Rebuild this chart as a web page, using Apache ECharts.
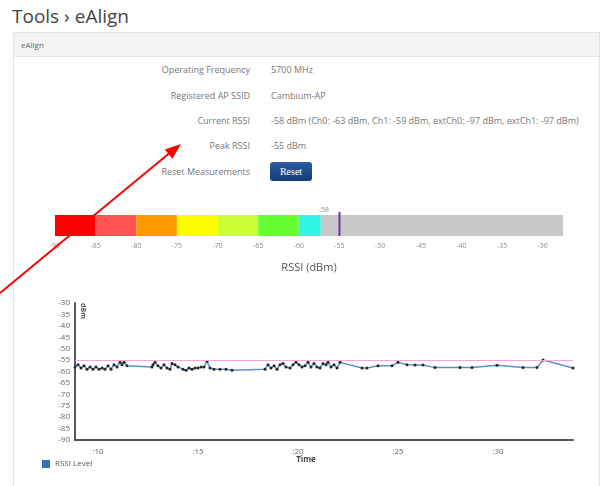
<!DOCTYPE html>
<html>
<head>
<meta charset="utf-8">
<script src="https://cdn.jsdelivr.net/npm/echarts@6/dist/echarts.min.js"></script>
<style>
  body { margin: 0; width: 607px; height: 486px; overflow: hidden; background: #fff; font-family: "Open Sans", sans-serif; position: relative; }
  .title { position: absolute; left: 12px; top: 3px; font-size: 19px; color: #444; }
  .panel { position: absolute; left: 13px; top: 32px; width: 585px; height: 470px; border: 1px solid #e2e2e2; }
  .panel-head { height: 23px; background: #f3f3f3; border-bottom: 1px solid #e6e6e6; font-size: 8px; color: #666; line-height: 23px; padding-left: 7px; }
  .row { position: absolute; left: 0; width: 607px; height: 12px; line-height: 12px; font-size: 9px; color: #777; }
  .row .lbl { position: absolute; right: 357px; white-space: nowrap; }
  .row .val { position: absolute; left: 271px; white-space: nowrap; }
  .btn { position: absolute; left: 270px; top: 162px; width: 42px; height: 19px; border-radius: 3px; background: linear-gradient(#2b5d9e, #123c78); color: #fff; font-family: "Liberation Serif", serif; font-size: 10px; line-height: 19px; text-align: center; }
  #chart { position: absolute; left: 0; top: 0; width: 607px; height: 486px; pointer-events: none; }
</style>
</head>
<body>
<div class="title">Tools &rsaquo; eAlign</div>
<div class="panel"><div class="panel-head">eAlign</div></div>
<div class="row" style="top:64px"><span class="lbl">Operating Frequency</span><span class="val">5700 MHz</span></div>
<div class="row" style="top:90px"><span class="lbl">Registered AP SSID</span><span class="val">Cambium-AP</span></div>
<div class="row" style="top:115px"><span class="lbl">Current RSSI</span><span class="val">-58 dBm (Ch0: -63 dBm, Ch1: -59 dBm, extCh0: -97 dBm, extCh1: -97 dBm)</span></div>
<div class="row" style="top:140px"><span class="lbl">Peak RSSI</span><span class="val">-55 dBm</span></div>
<div class="row" style="top:166px"><span class="lbl">Reset Measurements</span></div>
<div class="btn">Reset</div>
<div id="chart"></div>
<script>
// RSSI gauge bar
const zoneBounds = [-90, -85, -80, -75, -70, -65, -60];
const barLevel = -57.3;      // end of coloured part as seen on the bar
const currentRssi = -58;     // label above bar
const peakRssi = -55;
const barMax = -27.5;

// RSSI history (time in minutes past the hour, dBm)
const timeMinutes = [
  8.85, 9.0, 9.15, 9.3, 9.45, 9.6, 9.75, 9.9, 10.05, 10.2, 10.35, 10.5, 10.65, 10.8, 10.95, 11.1, 11.2, 11.3, 11.45,
  12.7, 12.75, 12.85, 13.0, 13.15, 13.3, 13.45, 13.6, 13.7, 13.85, 14.0, 14.25, 14.4, 14.55, 14.7, 14.85, 15.0, 15.15, 15.3, 15.45, 15.6, 15.8, 16.1, 16.4, 16.7,
  18.35, 18.5, 18.65, 18.8, 18.95, 19.1, 19.25, 19.4, 19.6, 19.75, 19.9, 20.05, 20.2, 20.35, 20.5, 20.65, 20.8, 20.95, 21.1, 21.25, 21.4, 21.5, 21.65, 21.8, 21.95, 22.1,
  23.2, 23.45, 24.0, 24.7, 25.0, 25.45, 25.85, 26.25, 26.85, 28.1, 28.7, 29.95, 31.25, 31.95, 32.25, 33.75
];
const rssiLevel = [
  -58, -57, -58.5, -57.5, -59, -58, -59, -58, -59, -58.5, -59, -57.5, -59, -57, -58, -56, -57, -56, -57.5,
  -58, -57, -56, -57.5, -58.5, -57, -58.5, -59, -56.5, -57, -58, -59, -59.5, -58.5, -59, -58.5, -58.5, -58, -58, -55.5, -58.5, -59, -59, -59, -59.5,
  -59, -57, -58.5, -57.5, -59, -57, -56.5, -58, -58.5, -57, -56, -57, -58, -57.5, -56, -58, -56.5, -58, -58.5, -56.5, -57, -56, -58, -57, -58.5, -56,
  -58.5, -58.5, -57.5, -57.5, -56, -57, -57.2, -57.2, -58.3, -58.3, -58.3, -57.3, -58.3, -58.3, -55, -58.5
];
const timeTicks = [10, 15, 20, 25, 30];

const zoneColors = ["#ff0000", "#ff5252", "#ff9900", "#ffff00", "#ccff33", "#66ff33", "#33f5e8"];
const restColor = "#c8c8c8";

// segments: [from, to, colourIndex] (-1 = grey remainder)
const segments = zoneBounds.map((b, i) => [b, i + 1 < zoneBounds.length ? zoneBounds[i + 1] : barLevel, i]);
segments.push([barLevel, barMax, -1]);

const chart = echarts.init(document.getElementById("chart"));
chart.setOption({
  animation: false,
  textStyle: { fontFamily: "Open Sans" },
  grid: [
    { left: 55, right: 44, top: 215, height: 21 },
    { left: 75, right: 34, top: 303, bottom: 46 }
  ],
  xAxis: [
    {
      gridIndex: 0, type: "value", min: -90, max: barMax, interval: 5,
      axisLine: { show: false }, axisTick: { show: false }, splitLine: { show: false },
      axisLabel: { fontSize: 7, color: "#888", margin: 6, showMaxLabel: false },
      name: "RSSI (dBm)", nameLocation: "middle", nameGap: 26,
      nameTextStyle: { fontSize: 11, color: "#555" }
    },
    {
      gridIndex: 1, type: "value", min: 8.85, max: 33.75,
      axisLine: { lineStyle: { color: "#555", width: 2 } },
      axisTick: { show: false }, splitLine: { show: false },
      axisLabel: {
        customValues: timeTicks, fontSize: 8, color: "#666", margin: 8,
        formatter: v => ":" + v
      }
    }
  ],
  yAxis: [
    { gridIndex: 0, type: "category", data: [""], show: false },
    {
      gridIndex: 1, type: "value", min: -90, max: -30, interval: 5,
      axisLine: { show: true, lineStyle: { color: "#555", width: 2 } },
      axisTick: { show: false }, splitLine: { show: false },
      axisLabel: { fontSize: 8, color: "#666", margin: 5 }
    }
  ],
  legend: {
    left: 42, top: 460, padding: 0, itemWidth: 8, itemHeight: 8,
    textStyle: { fontSize: 8, color: "#555" },
    data: [{ name: "RSSI Level", icon: "rect", itemStyle: { color: "#2f75b5" } }]
  },
  series: [
    {
      type: "custom", xAxisIndex: 0, yAxisIndex: 0,
      encode: { x: [0, 1] },
      data: segments,
      renderItem: function (params, api) {
        const a = api.coord([api.value(0), 0]);
        const b = api.coord([api.value(1), 0]);
        const h = api.size([0, 1])[1];
        const idx = api.value(2);
        return {
          type: "rect",
          shape: { x: a[0], y: a[1] - h / 2, width: b[0] - a[0], height: h },
          style: { fill: idx < 0 ? restColor : zoneColors[idx] }
        };
      }
    },
    {
      type: "custom", xAxisIndex: 0, yAxisIndex: 0,
      data: [[peakRssi]],
      renderItem: function (params, api) {
        const p = api.coord([api.value(0), 0]);
        const h = api.size([0, 1])[1];
        return {
          type: "line",
          shape: { x1: p[0], y1: p[1] - h / 2 - 3, x2: p[0], y2: p[1] + h / 2 },
          style: { stroke: "#7030a0", lineWidth: 2 }
        };
      }
    },
    {
      type: "custom", xAxisIndex: 0, yAxisIndex: 0,
      data: [[barLevel, currentRssi]],
      renderItem: function (params, api) {
        const p = api.coord([api.value(0), 0]);
        const h = api.size([0, 1])[1];
        return {
          type: "text",
          style: {
            x: p[0] + 3, y: p[1] - h / 2 - 2, text: String(api.value(1)),
            fill: "#888", fontSize: 7, align: "center", verticalAlign: "bottom", fontFamily: "Open Sans"
          }
        };
      }
    },
    {
      name: "RSSI Level", type: "line", xAxisIndex: 1, yAxisIndex: 1,
      data: timeMinutes.map((t, i) => [t, rssiLevel[i]]),
      symbol: "circle", symbolSize: 3, showAllSymbol: true,
      itemStyle: { color: "#262626" },
      lineStyle: { color: "#5b93c9", width: 1.5 },
      markLine: {
        silent: true, symbol: "none", label: { show: false },
        lineStyle: { color: "#f5a6df", width: 1, type: "solid" },
        data: [{ yAxis: peakRssi }]
      },
      z: 3
    }
  ],
  graphic: [
    {
      type: "text", x: 83, y: 311, rotation: -Math.PI / 2,
      style: { text: "dBm", fontSize: 7, fontWeight: "bold", fill: "#555", align: "center", verticalAlign: "middle", fontFamily: "Open Sans" }
    },
    {
      type: "text", x: 306, y: 460,
      style: { text: "Time", fontSize: 8, fontWeight: "bold", fill: "#444", align: "center", verticalAlign: "middle", fontFamily: "Open Sans" }
    },
    {
      type: "line", z: 100,
      shape: { x1: 0, y1: 293, x2: 172, y2: 151 },
      style: { stroke: "#ff0000", lineWidth: 2 }
    },
    {
      type: "polygon", z: 100,
      shape: { points: [[181, 144], [172.4, 158.8], [164.8, 149.6]] },
      style: { fill: "#ff0000" }
    }
  ]
});
</script>
</body>
</html>
